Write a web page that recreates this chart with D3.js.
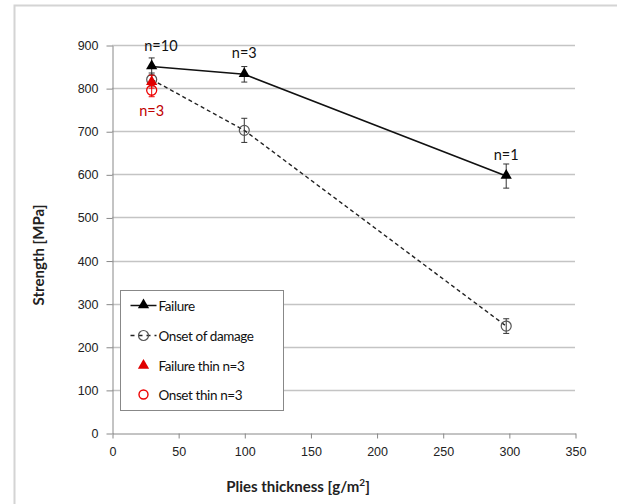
<!DOCTYPE html>
<html>
<head>
<meta charset="utf-8">
<script src="https://cdn.jsdelivr.net/npm/d3@7"></script>
<style>
  html, body { margin: 0; padding: 0; background: #fff; }
  svg { display: block; font-family: Lato, "Open Sans", sans-serif; }
</style>
</head>
<body>
<svg id="chart" width="617" height="504"></svg>
<script>
// Ply thickness [g/m²] and strength [MPa] with error half-widths
const failureX = [30, 100, 298];
const failureY = [850, 832, 596];
const failureErr = [20, 18, 28];

const onsetX = [30, 100, 298];
const onsetY = [820, 702, 248];
const onsetErr = [15, 28, 17];

const thinFailureX = [30];
const thinFailureY = [815];
const thinFailureErr = [15];

const thinOnsetX = [30];
const thinOnsetY = [795];
const thinOnsetErr = [15];

const sampleLabels = ["n=10", "n=3", "n=1"];
const sampleLabelX = [37, 100, 298];
const sampleLabelY = [885, 870, 633];
const thinLabel = "n=3";
const thinLabelX = 30;
const thinLabelY = 735;

const xTicks = [0, 50, 100, 150, 200, 250, 300, 350];
const yTicks = [0, 100, 200, 300, 400, 500, 600, 700, 800, 900];

const legendLabels = ["Failure", "Onset of damage", "Failure thin n=3", "Onset thin n=3"];

const svg = d3.select("#chart");

// outer frame
svg.append("rect")
  .attr("x", 14.5).attr("y", 5.5).attr("width", 640).attr("height", 540)
  .attr("fill", "none").attr("stroke", "#d4d4d4").attr("stroke-width", 2);

const x = d3.scaleLinear().domain([0, 350]).range([112, 575]);
const y = d3.scaleLinear().domain([0, 900]).range([433, 45]);

// gridlines
svg.append("g").selectAll("line").data(yTicks.filter(v => v > 0)).join("line")
  .attr("x1", x(0)).attr("x2", x(350))
  .attr("y1", d => Math.round(y(d)) + 0.5).attr("y2", d => Math.round(y(d)) + 0.5)
  .attr("stroke", "#c4c4c4").attr("stroke-width", 1.4);

// axes
const yAxis = d3.axisLeft(y).tickValues(yTicks).tickSize(6).tickPadding(8).tickSizeOuter(0);
const gy = svg.append("g").attr("transform", `translate(${x(0) + 0.5},0.5)`).call(yAxis);
gy.select(".domain").attr("stroke", "#888");
gy.selectAll(".tick line").attr("stroke", "#888");
gy.selectAll("text").attr("font-size", 12.5).attr("fill", "#222");

const xAxis = d3.axisBottom(x).tickValues(xTicks).tickSize(5).tickPadding(9).tickSizeOuter(0);
const gx = svg.append("g").attr("transform", `translate(0.5,${Math.round(y(0)) + 0.5})`).call(xAxis);
gx.select(".domain").attr("stroke", "#888");
gx.selectAll(".tick line").attr("stroke", "#888");
gx.selectAll("text").attr("font-size", 12.5).attr("fill", "#222");

// axis titles
svg.append("text")
  .attr("transform", `translate(44,255) rotate(-90)`)
  .attr("text-anchor", "middle").attr("font-size", 15).attr("font-weight", "bold")
  .attr("fill", "#222").text("Strength [MPa]");

const xt = svg.append("text")
  .attr("x", 298).attr("y", 492).attr("text-anchor", "middle")
  .attr("font-size", 15).attr("font-weight", "bold").attr("fill", "#222");
xt.append("tspan").text("Plies thickness [g/m");
xt.append("tspan").attr("font-size", 10).attr("dy", -6).text("2");
xt.append("tspan").attr("dy", 6).text("]");

const line = d3.line().x(d => x(d[0])).y(d => y(d[1]));
const zip = (xs, ys) => xs.map((v, i) => [v, ys[i]]);

// series lines
svg.append("path").datum(zip(onsetX, onsetY)).attr("d", line)
  .attr("fill", "none").attr("stroke", "#222").attr("stroke-width", 1.4)
  .attr("stroke-dasharray", "4,3");
svg.append("path").datum(zip(failureX, failureY)).attr("d", line)
  .attr("fill", "none").attr("stroke", "#111").attr("stroke-width", 1.6);

function errorBars(xs, ys, errs, color) {
  const g = svg.append("g").attr("stroke", color).attr("stroke-width", 1);
  xs.forEach((xv, i) => {
    const cx = x(xv), y1 = y(ys[i] + errs[i]), y2 = y(ys[i] - errs[i]);
    g.append("line").attr("x1", cx).attr("x2", cx).attr("y1", y1).attr("y2", y2);
    g.append("line").attr("x1", cx - 3).attr("x2", cx + 3).attr("y1", y1).attr("y2", y1);
    g.append("line").attr("x1", cx - 3).attr("x2", cx + 3).attr("y1", y2).attr("y2", y2);
  });
}

const tri = d3.symbol().type(d3.symbolTriangle).size(55);

// onset of damage
errorBars(onsetX, onsetY, onsetErr, "#333");
svg.append("g").selectAll("circle").data(zip(onsetX, onsetY)).join("circle")
  .attr("cx", d => x(d[0])).attr("cy", d => y(d[1])).attr("r", 5)
  .attr("fill", "none").attr("stroke", "#555").attr("stroke-width", 1.2);

// failure
errorBars(failureX, failureY, failureErr, "#333");
svg.append("g").selectAll("path").data(zip(failureX, failureY)).join("path")
  .attr("d", tri).attr("transform", d => `translate(${x(d[0])},${y(d[1]) - 0.5})`)
  .attr("fill", "#000");

// thin plies
errorBars(thinOnsetX, thinOnsetY, thinOnsetErr, "#e00");
errorBars(thinFailureX, thinFailureY, thinFailureErr, "#e00");
svg.append("g").selectAll("path").data(zip(thinFailureX, thinFailureY)).join("path")
  .attr("d", tri).attr("transform", d => `translate(${x(d[0])},${y(d[1])})`)
  .attr("fill", "#e00000");
svg.append("g").selectAll("circle").data(zip(thinOnsetX, thinOnsetY)).join("circle")
  .attr("cx", d => x(d[0])).attr("cy", d => y(d[1])).attr("r", 5)
  .attr("fill", "none").attr("stroke", "#e00").attr("stroke-width", 1.3);

// sample count labels
svg.append("g").selectAll("text").data(sampleLabels).join("text")
  .attr("x", (d, i) => x(sampleLabelX[i]))
  .attr("y", (d, i) => y(sampleLabelY[i]))
  .attr("text-anchor", "middle").attr("font-size", 14.5).attr("fill", "#111")
  .text(d => d);
svg.append("text")
  .attr("x", x(thinLabelX)).attr("y", y(thinLabelY))
  .attr("text-anchor", "middle").attr("font-size", 14.5).attr("fill", "#c00000")
  .text(thinLabel);

// legend
const lg = svg.append("g").attr("transform", "translate(120.5,290.5)");
lg.append("rect").attr("width", 163).attr("height", 120)
  .attr("fill", "#fff").attr("stroke", "#888").attr("stroke-width", 1);
const rowY = [15, 45, 75, 104];
// Failure entry
lg.append("line").attr("x1", 10).attr("x2", 36).attr("y1", rowY[0]).attr("y2", rowY[0])
  .attr("stroke", "#111").attr("stroke-width", 1.5);
lg.append("path").attr("d", tri).attr("transform", `translate(23,${rowY[0] - 0.5})`).attr("fill", "#000");
// Onset entry
lg.append("line").attr("x1", 10).attr("x2", 36).attr("y1", rowY[1]).attr("y2", rowY[1])
  .attr("stroke", "#222").attr("stroke-width", 1.3).attr("stroke-dasharray", "4,4");
lg.append("circle").attr("cx", 23).attr("cy", rowY[1]).attr("r", 5)
  .attr("fill", "none").attr("stroke", "#555").attr("stroke-width", 1.2);
// thin entries
lg.append("path").attr("d", tri).attr("transform", `translate(23,${rowY[2]})`).attr("fill", "#e00000");
lg.append("circle").attr("cx", 23).attr("cy", rowY[3]).attr("r", 4.5)
  .attr("fill", "none").attr("stroke", "#e00").attr("stroke-width", 1.4);

lg.selectAll("text.lab").data(legendLabels).join("text").attr("class", "lab")
  .attr("x", 38).attr("y", (d, i) => rowY[i] + 5)
  .attr("font-size", 13.5).attr("letter-spacing", -0.4).attr("fill", "#111").text(d => d);
</script>
</body>
</html>
